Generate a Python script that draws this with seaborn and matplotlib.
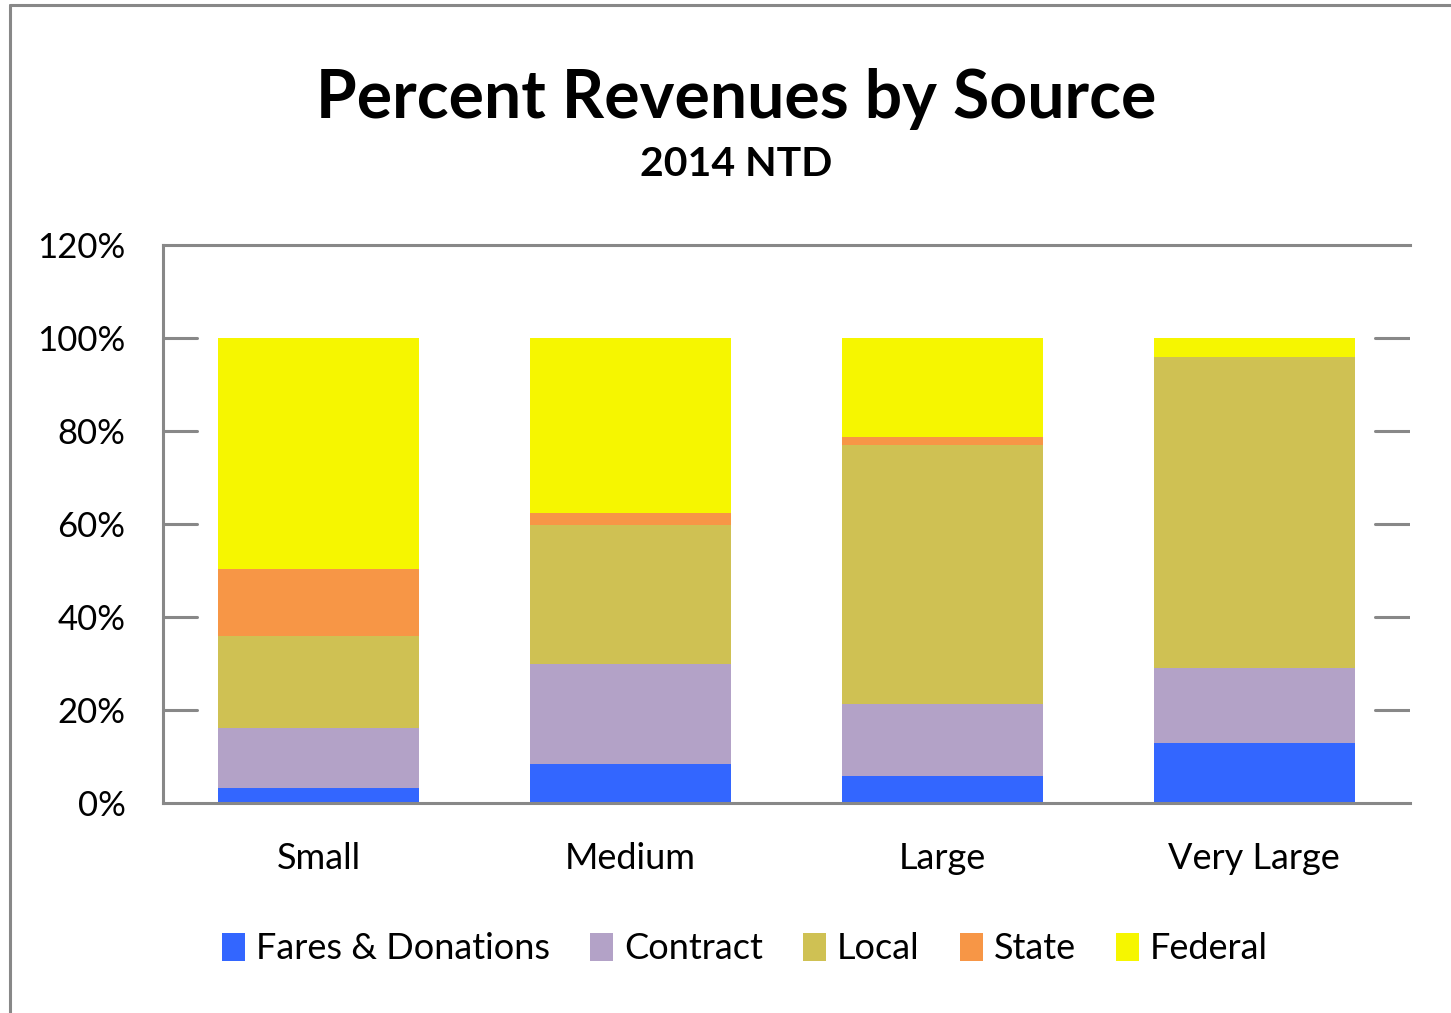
import matplotlib
matplotlib.use("Agg")
import matplotlib.pyplot as plt
from matplotlib.patches import Patch
from matplotlib.lines import Line2D
import numpy as np
import pandas as pd
import seaborn as sns

categories = ["Small", "Medium", "Large", "Very Large"]
series_names = ["Fares & Donations", "Contract", "Local", "State", "Federal"]
fares = [3.2, 8.4, 5.9, 12.8]
contract = [12.9, 21.5, 15.4, 16.2]
local = [19.8, 29.9, 55.7, 66.9]
state = [14.4, 2.6, 1.7, 0.0]
federal = [49.7, 37.6, 21.3, 4.1]
colors = ["#3366FF", "#B3A2C7", "#CFC153", "#F79646", "#F6F600"]
y_ticks = [0, 20, 40, 60, 80, 100, 120]

df = pd.DataFrame({"category": categories,
                   "Fares & Donations": fares,
                   "Contract": contract,
                   "Local": local,
                   "State": state,
                   "Federal": federal})
cum = df[series_names].cumsum(axis=1)
cum["category"] = categories

sns.set_style("white")
plt.rcParams["font.family"] = ["Lato", "DejaVu Sans"]
plt.rcParams["text.color"] = "black"
plt.rcParams["xtick.color"] = "black"
plt.rcParams["ytick.color"] = "black"

fig = plt.figure(figsize=(14.51, 10.13), dpi=100)
ax = fig.add_axes([0.1123, 0.2073, 0.8594, 0.5508])

# draw cumulative totals, top layer first so lower layers overlap
for name, col in reversed(list(zip(series_names, colors))):
    sns.barplot(data=cum, x="category", y=name, color=col, saturation=1,
                width=0.645, ax=ax, linewidth=0)

ax.set_xlim(-0.5, 3.5)
ax.set_ylim(0, 120)
ax.set_yticks(y_ticks)
ax.set_yticklabels([f"{t}%" for t in y_ticks])
ax.set_xlabel("")
ax.set_ylabel("")
ax.tick_params(axis="y", length=0, labelsize=25, pad=27)
ax.tick_params(axis="x", length=0, labelsize=26, pad=28)

grey = "#888888"
for side in ["left", "top", "bottom"]:
    ax.spines[side].set_color(grey)
    ax.spines[side].set_linewidth(2.2)
ax.spines["right"].set_visible(False)

# short gridline stubs at both ends
for t in y_ticks[1:-1]:
    ax.axhline(t, xmin=0, xmax=0.027, color=grey, lw=2.2, zorder=0)
    ax.axhline(t, xmin=0.972, xmax=1.0, color=grey, lw=2.2, zorder=0)

fig.text(0.5076, 0.8835, "Percent Revenues by Source", ha="center",
         va="baseline", fontsize=47.5, fontweight="bold")
fig.text(0.5076, 0.8263, "2014 NTD", ha="center", va="baseline",
         fontsize=29.5, fontweight="bold")

handles = [Patch(facecolor=c, edgecolor="none") for c in colors]
fig.legend(handles, series_names, loc="center", ncol=5,
           bbox_to_anchor=(0.5134, 0.0632), frameon=False, fontsize=26,
           handlelength=0.65, handleheight=0.85, handletextpad=0.3,
           columnspacing=1.1)

# outer frame
fig.add_artist(Line2D([0.0069, 0.0069], [0, 0.995], color=grey, lw=2.2,
                      transform=fig.transFigure))
fig.add_artist(Line2D([0.0069, 1], [0.995, 0.995], color=grey, lw=2.2,
                      transform=fig.transFigure))

fig.savefig("out.png", dpi=100)
